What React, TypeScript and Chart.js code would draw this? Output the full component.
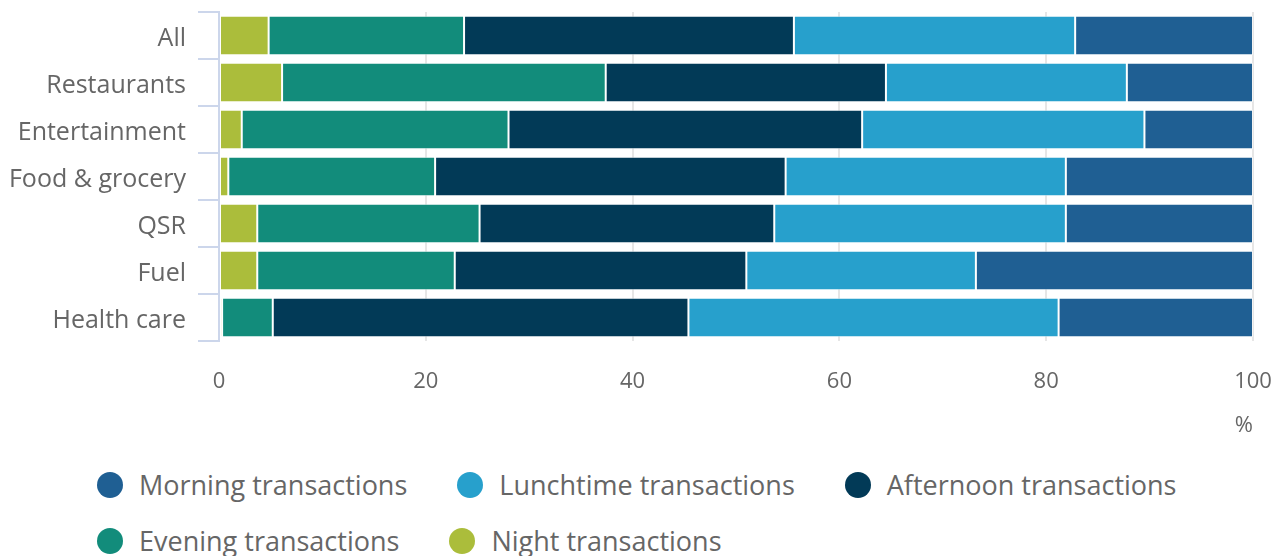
import React, { useEffect, useRef } from "react";
import { Chart, registerables } from "chart.js";

Chart.register(...registerables);

const categories = ["All", "Restaurants", "Entertainment", "Food & grocery", "QSR", "Fuel", "Health care"];
const nightValues = [4.8, 6.1, 2.2, 0.9, 3.7, 3.7, 0.3];
const eveningValues = [18.9, 31.3, 25.8, 20.0, 21.5, 19.1, 4.9];
const afternoonValues = [31.9, 27.1, 34.2, 33.9, 28.5, 28.2, 40.2];
const lunchtimeValues = [27.2, 23.3, 27.3, 27.1, 28.2, 22.2, 35.8];
const morningValues = [17.2, 12.2, 10.5, 18.1, 18.1, 26.8, 18.8];
const xTicks = [0, 20, 40, 60, 80, 100];
const axisUnit = "%";

const seriesNames = ["Night transactions", "Evening transactions", "Afternoon transactions", "Lunchtime transactions", "Morning transactions"];
const seriesColors = ["#abbd3b", "#128c7b", "#023a57", "#27a0cc", "#1f5f93"];
const seriesValues = [nightValues, eveningValues, afternoonValues, lunchtimeValues, morningValues];
const legendOrder = [4, 3, 2, 1, 0];

const FONT = "'Open Sans', 'Noto Sans', sans-serif";
const TEXT = "#666666";

export default function App() {
  const ref = useRef<HTMLCanvasElement | null>(null);
  useEffect(() => {
    document.documentElement.style.overflow = "hidden";
    if (!ref.current) return;
    const chart = new Chart(ref.current, {
      type: "bar",
      data: {
        labels: categories,
        datasets: seriesNames.map((name, i) => ({
          label: name,
          data: seriesValues[i],
          backgroundColor: seriesColors[i],
          borderColor: "rgba(255,255,255,0.55)",
          borderWidth: 1,
          borderSkipped: false,
          categoryPercentage: 1,
          barPercentage: 0.84,
        })),
      },
      options: {
        indexAxis: "y",
        animation: false,
        responsive: true,
        maintainAspectRatio: false,
        layout: { padding: { top: 4, right: 21, bottom: 8, left: 0 } },
        plugins: { legend: { display: false }, tooltip: { enabled: false } },
        scales: {
          x: {
            stacked: true,
            min: 0,
            max: 100,
            afterBuildTicks: (s: any) => {
              s.ticks = xTicks.map((v) => ({ value: v }));
            },
            afterFit: (s: any) => {
              s.height = 99;
              s.paddingLeft = 0;
              s.paddingRight = 0;
            },
            grid: { color: "#e6e6e6", lineWidth: 2, drawTicks: false },
            border: { display: false },
            ticks: { color: TEXT, font: { family: FONT, size: 22 }, padding: 28 },
            title: {
              display: true,
              text: axisUnit,
              align: "end",
              color: TEXT,
              font: { family: FONT, size: 22 },
              padding: { top: 10, bottom: 1 },
            },
          },
          y: {
            stacked: true,
            afterFit: (s: any) => {
              s.width = 211;
              s.paddingTop = 0;
              s.paddingBottom = 0;
            },
            grid: {
              offset: true,
              drawOnChartArea: false,
              drawTicks: true,
              tickLength: 21,
              color: "#ccd6eb",
              lineWidth: 2,
            },
            border: { display: true, color: "#ccd6eb", width: 2 },
            ticks: { color: TEXT, font: { family: FONT, size: 25 }, padding: 12, labelOffset: 3 },
          },
        },
      },
    });
    return () => chart.destroy();
  }, []);

  return (
    <div style={{ position: "relative", width: 1266, height: 548 }}>
      <div style={{ position: "relative", width: 1266, height: 440 }}>
        <canvas ref={ref} />
      </div>
      <div
        style={{
          position: "absolute",
          left: 0,
          top: 458,
          display: "flex",
          flexWrap: "wrap",
          columnGap: 50,
          rowGap: 20,
          paddingLeft: 89,
          width: 1180,
          fontFamily: FONT,
          fontSize: 27,
          lineHeight: "34px",
          color: TEXT,
        }}
      >
        {legendOrder.map((i) => (
          <div key={seriesNames[i]} style={{ display: "flex", alignItems: "center", height: 34, marginTop: 2 }}>
            <span
              style={{
                display: "inline-block",
                width: 26,
                height: 26,
                borderRadius: "50%",
                background: seriesColors[i],
                marginRight: 16,
              }}
            />
            <span>{seriesNames[i]}</span>
          </div>
        ))}
      </div>
    </div>
  );
}
